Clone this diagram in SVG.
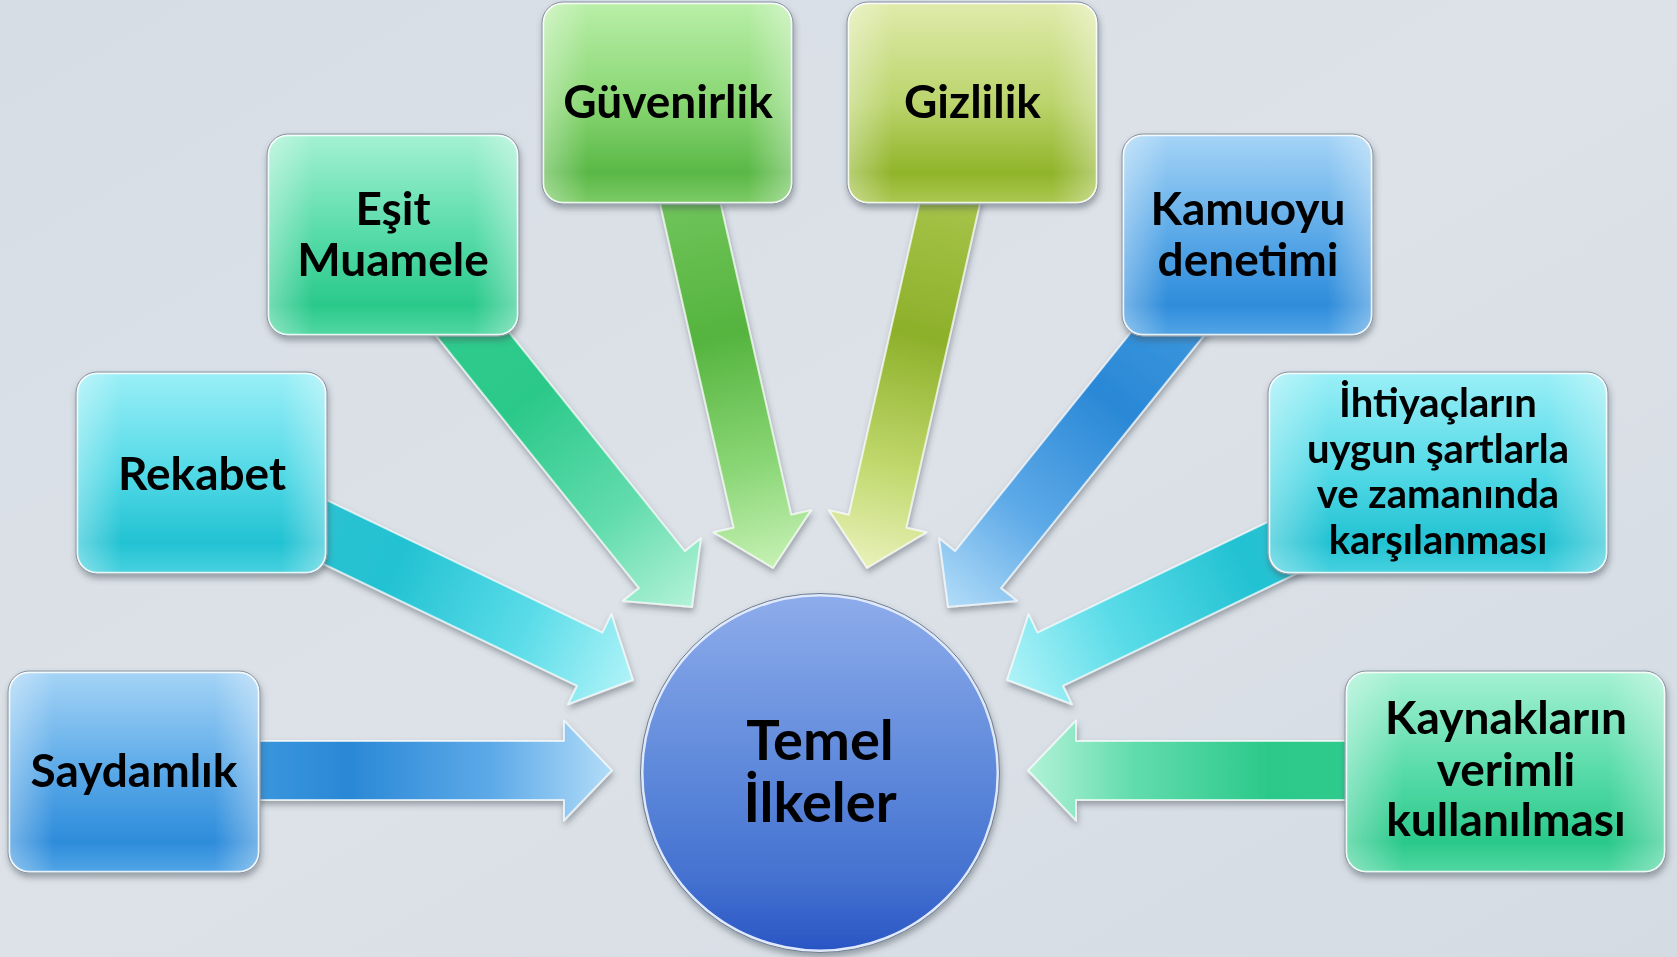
<svg xmlns="http://www.w3.org/2000/svg" width="1677" height="957" viewBox="0 0 1677 957">
<defs>
<style>
.t{font-family:Lato,"Liberation Sans",sans-serif;font-weight:700;fill:#000;text-anchor:middle}
.n{font-size:46px}
.s{font-size:40px}
.c{font-size:56px}
.box{stroke:#ffffff;stroke-opacity:.85;stroke-width:2.5}
.boxo{fill:none;stroke:#7f8e9c;stroke-width:1}
.gl{fill:url(#gloss)}
.arr{stroke:#ffffff;stroke-opacity:.7;stroke-width:2;stroke-linejoin:round;filter:url(#sh)}
</style>
<linearGradient id="bg" x1="0" y1="0" x2="1" y2="1">
<stop offset="0" stop-color="#d6dde5"/><stop offset=".5" stop-color="#dde2e8"/><stop offset="1" stop-color="#d4dbe3"/>
</linearGradient>
<filter id="sh" x="-20%" y="-20%" width="140%" height="140%">
<feDropShadow dx="1" dy="4" stdDeviation="3" flood-color="#404a55" flood-opacity=".45"/>
</filter>
<linearGradient id="gloss" x1="0" y1="0" x2="1" y2="0">
<stop offset="0" stop-color="#fff" stop-opacity=".35"/><stop offset=".18" stop-color="#fff" stop-opacity="0"/><stop offset=".82" stop-color="#fff" stop-opacity="0"/><stop offset="1" stop-color="#fff" stop-opacity=".35"/>
</linearGradient>
<linearGradient id="bBlue" x1="0" y1="0" x2="0" y2="1">
<stop offset="0" stop-color="#a5d4f6"/><stop offset=".5" stop-color="#5aa9e8"/><stop offset=".85" stop-color="#2e8cdb"/><stop offset="1" stop-color="#52a5e6"/>
</linearGradient>
<linearGradient id="bCyan" x1="0" y1="0" x2="0" y2="1">
<stop offset="0" stop-color="#9aeff7"/><stop offset=".5" stop-color="#52d9e6"/><stop offset=".85" stop-color="#22c2d3"/><stop offset="1" stop-color="#48d1df"/>
</linearGradient>
<linearGradient id="bMint" x1="0" y1="0" x2="0" y2="1">
<stop offset="0" stop-color="#a4f1d3"/><stop offset=".5" stop-color="#57dba9"/><stop offset=".85" stop-color="#2ac98a"/><stop offset="1" stop-color="#52d7a2"/>
</linearGradient>
<linearGradient id="bGreen" x1="0" y1="0" x2="0" y2="1">
<stop offset="0" stop-color="#baefa8"/><stop offset=".5" stop-color="#88d672"/><stop offset=".85" stop-color="#5ab846"/><stop offset="1" stop-color="#7ccb66"/>
</linearGradient>
<linearGradient id="bYg" x1="0" y1="0" x2="0" y2="1">
<stop offset="0" stop-color="#e0ebab"/><stop offset=".5" stop-color="#bbd46c"/><stop offset=".85" stop-color="#90b42a"/><stop offset="1" stop-color="#abc852"/>
</linearGradient>
<linearGradient id="circ" x1="0" y1="0" x2="0" y2="1">
<stop offset="0" stop-color="#8eaceb"/><stop offset=".45" stop-color="#628cdc"/><stop offset=".8" stop-color="#4471d0"/><stop offset="1" stop-color="#2a55c4"/>
</linearGradient>
<linearGradient id="a1" gradientUnits="userSpaceOnUse" x1="134" y1="770" x2="612" y2="770">
<stop offset=".26" stop-color="#3a96dc"/><stop offset=".45" stop-color="#2a88d6"/><stop offset=".75" stop-color="#5eaae8"/><stop offset="1" stop-color="#b2dcf8"/>
</linearGradient>
<linearGradient id="a2" gradientUnits="userSpaceOnUse" x1="202" y1="473" x2="633" y2="680">
<stop offset=".28" stop-color="#2ac2d2"/><stop offset=".45" stop-color="#23c2d3"/><stop offset=".75" stop-color="#5adce8"/><stop offset="1" stop-color="#b0f3f8"/>
</linearGradient>
<linearGradient id="a3" gradientUnits="userSpaceOnUse" x1="393" y1="235" x2="692" y2="607">
<stop offset=".22" stop-color="#2ecb8c"/><stop offset=".45" stop-color="#2cc98a"/><stop offset=".75" stop-color="#62dcad"/><stop offset="1" stop-color="#b3f2d8"/>
</linearGradient>
<linearGradient id="a4" gradientUnits="userSpaceOnUse" x1="667" y1="103" x2="773" y2="568">
<stop offset=".2" stop-color="#70c45a"/><stop offset=".5" stop-color="#55b43e"/><stop offset=".78" stop-color="#8ad676"/><stop offset="1" stop-color="#c6f1b4"/>
</linearGradient>
<linearGradient id="a5" gradientUnits="userSpaceOnUse" x1="973" y1="103" x2="867" y2="568">
<stop offset=".2" stop-color="#a6c44a"/><stop offset=".5" stop-color="#8db02a"/><stop offset=".78" stop-color="#c0d86c"/><stop offset="1" stop-color="#e9f1ba"/>
</linearGradient>
<linearGradient id="a6" gradientUnits="userSpaceOnUse" x1="1247" y1="235" x2="948" y2="607">
<stop offset=".22" stop-color="#3a96dc"/><stop offset=".45" stop-color="#2a88d6"/><stop offset=".75" stop-color="#5eaae8"/><stop offset="1" stop-color="#b2dcf8"/>
</linearGradient>
<linearGradient id="a7" gradientUnits="userSpaceOnUse" x1="1438" y1="473" x2="1007" y2="680">
<stop offset=".28" stop-color="#2ac2d2"/><stop offset=".45" stop-color="#23c2d3"/><stop offset=".75" stop-color="#5adce8"/><stop offset="1" stop-color="#b0f3f8"/>
</linearGradient>
<linearGradient id="a8" gradientUnits="userSpaceOnUse" x1="1506" y1="770" x2="1028" y2="770">
<stop offset=".33" stop-color="#2ecb8c"/><stop offset=".5" stop-color="#2cc98a"/><stop offset=".78" stop-color="#62dcad"/><stop offset="1" stop-color="#b3f2d8"/>
</linearGradient>
</defs>
<rect width="1677" height="957" fill="url(#bg)"/>
<g id="connectors">
<polygon class="arr" fill="url(#a1)" points="134,741 564,741 564,720.5 612,770.5 564,820.5 564,800 134,800"/>
<polygon class="arr" fill="url(#a2)" points="189.2,499.6 577,685.8 568.1,704.3 633,680 611.4,614.1 602.5,632.6 214.8,446.4"/>
<polygon class="arr" fill="url(#a3)" points="370,253.5 638.9,588.1 623,600.9 692,607 700.9,538.3 684.9,551.1 416,216.5"/>
<polygon class="arr" fill="url(#a4)" points="638.7,109.5 733.6,527.7 713.6,532.3 773,568 811.1,510.1 791.2,514.7 696.3,96.5"/>
<polygon class="arr" fill="url(#a5)" points="1001.3,109.5 906.4,527.7 926.4,532.3 867,568 828.9,510.1 848.8,514.7 943.7,96.5"/>
<polygon class="arr" fill="url(#a6)" points="1270,253.5 1001.1,588.1 1017,600.9 948,607 939.1,538.3 955.1,551.1 1224,216.5"/>
<polygon class="arr" fill="url(#a7)" points="1450.8,499.6 1063,685.8 1071.9,704.3 1007,680 1028.6,614.1 1037.5,632.6 1425.2,446.4"/>
<polygon class="arr" fill="url(#a8)" points="1506,741 1076,741 1076,720.5 1028,770.5 1076,820.5 1076,800 1506,800"/>
</g>
<g id="saydamlik" filter="url(#sh)">
<rect class="box" x="9" y="672" width="250" height="200" rx="20" fill="url(#bBlue)"/>
<rect class="gl" x="9" y="672" width="250" height="200" rx="20"/>
<rect class="boxo" x="8" y="671" width="252" height="202" rx="21"/>
<text class="t n" x="134" y="787">Saydamlık</text>
</g>
<g id="rekabet" filter="url(#sh)">
<rect class="box" x="77" y="373" width="249" height="200" rx="20" fill="url(#bCyan)"/>
<rect class="gl" x="77" y="373" width="249" height="200" rx="20"/>
<rect class="boxo" x="76" y="372" width="251" height="202" rx="21"/>
<text class="t n" x="202" y="490">Rekabet</text>
</g>
<g id="esit-muamele" filter="url(#sh)">
<rect class="box" x="268" y="135" width="250" height="200" rx="20" fill="url(#bMint)"/>
<rect class="gl" x="268" y="135" width="250" height="200" rx="20"/>
<rect class="boxo" x="267" y="134" width="252" height="202" rx="21"/>
<text class="t n" x="393" y="225">Eşit</text>
<text class="t n" x="393" y="276">Muamele</text>
</g>
<g id="guvenirlik" filter="url(#sh)">
<rect class="box" x="543" y="3" width="249" height="200" rx="20" fill="url(#bGreen)"/>
<rect class="gl" x="543" y="3" width="249" height="200" rx="20"/>
<rect class="boxo" x="542" y="2" width="251" height="202" rx="21"/>
<text class="t n" x="668" y="118">Güvenirlik</text>
</g>
<g id="gizlilik" filter="url(#sh)">
<rect class="box" x="848" y="3" width="249" height="200" rx="20" fill="url(#bYg)"/>
<rect class="gl" x="848" y="3" width="249" height="200" rx="20"/>
<rect class="boxo" x="847" y="2" width="251" height="202" rx="21"/>
<text class="t n" x="972.5" y="118">Gizlilik</text>
</g>
<g id="kamuoyu-denetimi" filter="url(#sh)">
<rect class="box" x="1123" y="135" width="249" height="200" rx="20" fill="url(#bBlue)"/>
<rect class="gl" x="1123" y="135" width="249" height="200" rx="20"/>
<rect class="boxo" x="1122" y="134" width="251" height="202" rx="21"/>
<text class="t n" x="1248" y="225">Kamuoyu</text>
<text class="t n" x="1248" y="276">denetimi</text>
</g>
<g id="ihtiyaclarin" filter="url(#sh)">
<rect class="box" x="1269" y="373" width="338" height="200" rx="20" fill="url(#bCyan)"/>
<rect class="gl" x="1269" y="373" width="338" height="200" rx="20"/>
<rect class="boxo" x="1268" y="372" width="340" height="202" rx="21"/>
<text class="t s" x="1438" y="417">İhtiyaçların</text>
<text class="t s" x="1438" y="463">uygun şartlarla</text>
<text class="t s" x="1438" y="508">ve zamanında</text>
<text class="t s" x="1438" y="554">karşılanması</text>
</g>
<g id="kaynaklarin" filter="url(#sh)">
<rect class="box" x="1346" y="672" width="319" height="200" rx="20" fill="url(#bMint)"/>
<rect class="gl" x="1346" y="672" width="319" height="200" rx="20"/>
<rect class="boxo" x="1345" y="671" width="321" height="202" rx="21"/>
<text class="t n" x="1506" y="734">Kaynakların</text>
<text class="t n" x="1506" y="786">verimli</text>
<text class="t n" x="1506" y="836">kullanılması</text>
</g>
<g id="temel-ilkeler" filter="url(#sh)">
<circle cx="820" cy="773" r="178" fill="url(#circ)" stroke="#dfe9fb" stroke-width="3"/>
<circle cx="820" cy="773" r="179.5" fill="none" stroke="#6d7c8e" stroke-width="1"/>
<text class="t c" x="820" y="760">Temel</text>
<text class="t c" x="820" y="822">İlkeler</text>
</g>
</svg>
